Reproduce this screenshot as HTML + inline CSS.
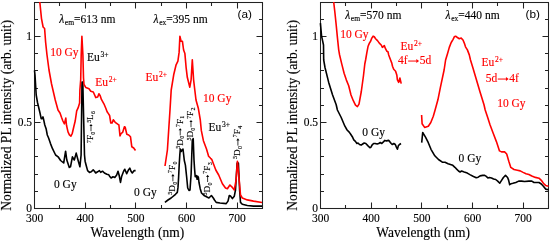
<!DOCTYPE html>
<html><head><meta charset="utf-8"><style>
html,body{margin:0;padding:0;background:#fff;width:550px;height:241px;overflow:hidden}
svg{display:block;will-change:transform}
text{font-family:"Liberation Serif",serif;stroke:currentColor;stroke-width:0.14px;paint-order:stroke}
.t{font-size:11.5px;fill:#000}
.ttl{font-size:13.5px;fill:#000}
.pl{font-family:"Liberation Sans",sans-serif;font-size:11.8px;fill:#000;stroke:none}
.an{font-size:11.5px}
.sm{font-size:9px;fill:#000}
</style></head><body>
<svg width="550" height="241" viewBox="0 0 550 241">
<rect x="34.50" y="2.5" width="228.00" height="206.00" fill="none" stroke="#222" stroke-width="1.05"/>
<path d="M59.50,208.50 v-3.5 M59.50,2.50 v3.5 M85.50,208.50 v-6 M85.50,2.50 v6 M110.50,208.50 v-3.5 M110.50,2.50 v3.5 M135.50,208.50 v-6 M135.50,2.50 v6 M161.50,208.50 v-3.5 M161.50,2.50 v3.5 M186.50,208.50 v-6 M186.50,2.50 v6 M211.50,208.50 v-3.5 M211.50,2.50 v3.5 M237.50,208.50 v-6 M237.50,2.50 v6 M262.50,208.50 v-3.5 M262.50,2.50 v3.5 M34.50,191.50 h3.5 M262.50,191.50 h-3.5 M34.50,174.50 h3.5 M262.50,174.50 h-3.5 M34.50,156.50 h3.5 M262.50,156.50 h-3.5 M34.50,139.50 h3.5 M262.50,139.50 h-3.5 M34.50,122.50 h6 M262.50,122.50 h-6 M34.50,105.50 h3.5 M262.50,105.50 h-3.5 M34.50,88.50 h3.5 M262.50,88.50 h-3.5 M34.50,70.50 h3.5 M262.50,70.50 h-3.5 M34.50,53.50 h3.5 M262.50,53.50 h-3.5 M34.50,36.50 h6 M262.50,36.50 h-6 M34.50,19.50 h3.5 M262.50,19.50 h-3.5" stroke="#222" stroke-width="1.05" fill="none"/>
<text transform="translate(34.50,221.5) scale(1,1.02)" text-anchor="middle" class="t">300</text>
<text transform="translate(85.17,221.5) scale(1,1.02)" text-anchor="middle" class="t">400</text>
<text transform="translate(135.83,221.5) scale(1,1.02)" text-anchor="middle" class="t">500</text>
<text transform="translate(186.50,221.5) scale(1,1.02)" text-anchor="middle" class="t">600</text>
<text transform="translate(237.17,221.5) scale(1,1.02)" text-anchor="middle" class="t">700</text>
<text transform="translate(32.00,212.30) scale(1,1.02)" text-anchor="end" class="t">0</text>
<text transform="translate(32.00,126.30) scale(1,1.02)" text-anchor="end" class="t">0.5</text>
<text transform="translate(32.00,40.30) scale(1,1.02)" text-anchor="end" class="t">1</text>
<rect x="320.50" y="2.5" width="228.00" height="206.00" fill="none" stroke="#222" stroke-width="1.05"/>
<path d="M345.50,208.50 v-3.5 M345.50,2.50 v3.5 M371.50,208.50 v-6 M371.50,2.50 v6 M396.50,208.50 v-3.5 M396.50,2.50 v3.5 M421.50,208.50 v-6 M421.50,2.50 v6 M447.50,208.50 v-3.5 M447.50,2.50 v3.5 M472.50,208.50 v-6 M472.50,2.50 v6 M497.50,208.50 v-3.5 M497.50,2.50 v3.5 M523.50,208.50 v-6 M523.50,2.50 v6 M548.50,208.50 v-3.5 M548.50,2.50 v3.5 M320.50,191.50 h3.5 M548.50,191.50 h-3.5 M320.50,174.50 h3.5 M548.50,174.50 h-3.5 M320.50,156.50 h3.5 M548.50,156.50 h-3.5 M320.50,139.50 h3.5 M548.50,139.50 h-3.5 M320.50,122.50 h6 M548.50,122.50 h-6 M320.50,105.50 h3.5 M548.50,105.50 h-3.5 M320.50,88.50 h3.5 M548.50,88.50 h-3.5 M320.50,70.50 h3.5 M548.50,70.50 h-3.5 M320.50,53.50 h3.5 M548.50,53.50 h-3.5 M320.50,36.50 h6 M548.50,36.50 h-6 M320.50,19.50 h3.5 M548.50,19.50 h-3.5" stroke="#222" stroke-width="1.05" fill="none"/>
<text transform="translate(320.50,221.5) scale(1,1.02)" text-anchor="middle" class="t">300</text>
<text transform="translate(371.17,221.5) scale(1,1.02)" text-anchor="middle" class="t">400</text>
<text transform="translate(421.83,221.5) scale(1,1.02)" text-anchor="middle" class="t">500</text>
<text transform="translate(472.50,221.5) scale(1,1.02)" text-anchor="middle" class="t">600</text>
<text transform="translate(523.17,221.5) scale(1,1.02)" text-anchor="middle" class="t">700</text>
<text transform="translate(318.00,212.30) scale(1,1.02)" text-anchor="end" class="t">0</text>
<text transform="translate(318.00,126.30) scale(1,1.02)" text-anchor="end" class="t">0.5</text>
<text transform="translate(318.00,40.30) scale(1,1.02)" text-anchor="end" class="t">1</text>
<path d="M34.50,70.50 L35.00,75.00 L36.20,95.00 L37.50,102.50 L38.70,107.50 L40.00,113.00 L41.20,118.70 L42.20,118.80 L43.00,116.90 L43.60,119.40 L44.80,125.00 L46.10,128.70 L47.30,135.00 L48.60,138.00 L50.50,143.60 L52.50,148.70 L55.60,155.00 L58.10,156.80 L60.60,160.50 L63.70,163.00 L65.60,151.20 L66.80,160.00 L69.30,167.40 L70.50,166.80 L72.40,156.80 L74.30,160.00 L76.20,153.10 L78.00,160.00 L79.90,166.80 L81.10,155.00 L82.00,82.00 L82.80,82.00 L84.50,155.00 L85.10,161.20 L86.40,166.20 L87.60,170.60 L89.50,172.40 L91.30,171.80 L93.20,169.90 L94.50,171.20 L95.70,173.00 L97.60,171.80 L99.40,170.60 L100.70,172.40 L102.50,171.20 L104.40,173.00 L106.90,174.30 L108.80,174.80 L110.00,176.80 L111.10,178.00 L113.00,176.80 L114.80,177.40 L116.70,174.90 L118.00,171.20 L119.20,175.50 L120.50,182.40 L121.70,176.20 L123.60,171.20 L124.80,169.30 L126.70,173.70 L128.50,169.90 L129.80,168.10 L131.00,171.20 L132.30,173.00 L134.20,170.60 L135.60,170.60" stroke="#000000" stroke-width="1.6" fill="none" stroke-linejoin="round"/>
<path d="M39.80,2.00 L41.50,18.60 L43.10,27.00 L44.60,28.50 L45.60,42.00 L47.00,55.00 L49.00,70.00 L51.50,83.75 L55.25,100.00 L58.00,110.00 L60.00,113.00 L61.50,117.30 L62.90,121.00 L64.40,123.90 L65.80,118.10 L66.50,125.30 L68.00,131.90 L69.40,134.80 L70.90,136.20 L72.30,133.30 L73.80,126.80 L75.20,121.00 L76.70,110.80 L78.10,107.90 L79.60,103.00 L79.90,90.00 L80.70,79.80 L81.20,55.00 L81.90,36.20 L82.90,55.00 L83.50,78.00 L84.00,84.50 L85.90,87.60 L89.00,88.80 L90.80,91.30 L93.30,92.00 L95.80,97.60 L97.70,97.00 L98.90,93.80 L100.20,95.70 L101.40,99.40 L103.90,103.80 L105.80,108.20 L107.10,111.70 L108.40,113.60 L109.60,115.50 L110.80,123.00 L112.10,123.00 L113.30,119.80 L115.20,122.30 L117.70,124.20 L118.90,125.00 L120.00,136.00 L121.20,133.30 L122.70,132.30 L124.40,126.80 L125.20,127.30 L126.80,134.30 L128.70,135.00 L130.50,136.80 L131.80,146.80 L133.70,148.00 L135.50,150.50" stroke="#ff0000" stroke-width="1.6" fill="none" stroke-linejoin="round"/>
<path d="M164.90,202.30 L168.00,200.00 L171.10,198.00 L175.50,194.30 L177.30,192.40 L178.00,187.40 L178.60,177.50 L179.20,165.00 L179.80,155.00 L180.30,149.00 L181.20,151.50 L182.00,150.00 L183.00,149.00 L184.30,160.50 L185.40,165.10 L186.60,176.50 L187.70,188.00 L189.00,190.50 L190.00,190.00 L191.10,174.20 L192.30,140.00 L193.20,138.60 L194.00,160.00 L194.50,168.00 L195.20,176.80 L196.50,175.60 L197.10,179.30 L197.70,176.20 L198.40,177.50 L199.00,182.50 L200.20,188.70 L201.50,193.00 L204.00,195.50 L206.50,196.80 L208.90,198.00 L211.40,195.50 L213.30,198.00 L214.50,200.00 L216.20,202.40 L220.00,203.00 L226.20,203.60 L228.00,201.10 L229.30,195.50 L230.50,196.00 L232.40,198.60 L234.30,196.20 L235.50,190.00 L237.10,163.00 L238.40,163.00 L239.60,190.00 L240.50,202.40 L242.30,204.30 L247.30,205.50 L253.50,206.10 L262.00,206.10" stroke="#000000" stroke-width="1.6" fill="none" stroke-linejoin="round"/>
<path d="M165.00,166.00 L167.40,150.00 L168.70,130.00 L170.00,110.00 L171.20,90.00 L173.70,74.80 L176.10,64.80 L177.90,61.10 L179.10,52.40 L179.90,36.20 L181.10,41.20 L182.40,41.20 L183.60,50.00 L184.90,53.60 L186.10,67.30 L187.30,77.30 L189.80,87.20 L191.10,79.80 L192.30,59.90 L193.60,79.80 L194.80,90.00 L196.00,100.00 L198.30,108.20 L200.30,120.00 L201.30,130.40 L203.40,140.70 L206.50,149.00 L208.60,156.20 L210.60,158.30 L211.70,159.30 L213.70,164.50 L215.80,170.00 L218.70,175.00 L222.40,183.70 L225.50,188.00 L227.40,188.70 L229.90,185.00 L231.80,186.80 L234.30,190.00 L236.10,180.00 L237.40,161.20 L239.20,180.00 L240.50,195.00 L242.30,198.00 L247.30,199.90 L253.50,201.10 L262.00,202.50" stroke="#ff0000" stroke-width="1.6" fill="none" stroke-linejoin="round"/>
<path d="M320.40,23.10 L321.60,36.20 L323.50,45.00 L323.70,60.00 L325.00,67.50 L328.70,82.40 L332.50,94.80 L336.20,104.80 L337.40,110.00 L341.20,117.50 L344.90,126.20 L347.10,130.00 L349.20,132.10 L350.70,134.20 L352.30,136.70 L353.80,139.90 L355.40,141.40 L356.90,143.50 L358.00,143.00 L359.50,144.50 L361.10,145.10 L362.70,144.00 L364.20,143.00 L365.80,143.50 L367.80,145.60 L369.90,147.70 L371.00,147.10 L372.00,145.10 L373.60,143.50 L375.10,143.50 L377.20,144.00 L378.70,143.50 L380.30,142.50 L381.80,143.50 L383.40,141.90 L384.90,140.40 L386.50,140.90 L388.60,140.40 L389.60,141.40 L391.20,143.50 L392.20,144.50 L393.80,143.50 L395.30,144.50 L396.40,147.10 L397.40,149.20 L398.40,145.60 L399.50,144.50 L401.00,143.50" stroke="#000000" stroke-width="1.6" fill="none" stroke-linejoin="round"/>
<path d="M333.70,2.00 L334.90,12.50 L336.20,25.00 L337.40,37.40 L338.70,49.80 L339.60,55.00 L341.80,64.10 L344.10,73.30 L346.40,80.10 L348.70,85.80 L351.00,95.00 L353.30,100.70 L355.50,105.20 L357.40,106.60 L359.00,104.10 L361.30,91.50 L363.50,75.50 L364.80,64.00 L365.60,60.00 L366.90,52.40 L368.10,46.20 L369.40,43.10 L370.60,41.20 L371.80,38.10 L373.10,36.20 L374.30,36.80 L375.60,38.70 L377.50,40.60 L379.30,43.10 L381.20,45.00 L382.40,47.40 L384.30,45.60 L385.50,48.70 L386.80,51.20 L388.00,51.80 L388.70,55.00 L390.60,60.00 L391.80,63.10 L392.50,66.20 L393.70,69.30 L395.60,71.20 L396.80,74.90 L397.40,79.90 L398.70,82.40 L399.90,78.00 L401.20,83.60" stroke="#ff0000" stroke-width="1.6" fill="none" stroke-linejoin="round"/>
<path d="M421.70,142.70 L422.70,132.50 L425.50,137.10 L428.30,142.70 L431.00,149.30 L434.80,155.80 L438.50,159.50 L442.30,162.20 L445.00,162.20 L448.10,163.70 L451.20,164.70 L452.80,165.30 L454.90,167.30 L456.90,169.40 L458.50,171.00 L460.10,172.00 L461.60,171.00 L464.20,172.00 L467.30,173.10 L469.90,174.60 L473.00,176.20 L476.20,177.70 L478.20,177.20 L480.10,175.90 L482.70,175.40 L484.70,175.40 L486.30,176.40 L487.90,178.00 L489.40,177.50 L491.50,178.00 L493.60,179.00 L495.70,179.50 L497.70,181.10 L499.80,183.20 L501.40,180.60 L503.40,177.50 L505.50,175.40 L507.60,177.50 L508.60,180.10 L509.70,184.70 L511.20,183.70 L512.90,183.30 L515.80,182.50 L518.70,181.10 L521.60,181.10 L524.50,181.50 L528.90,181.10 L531.80,181.10 L534.00,182.50 L536.20,182.50 L539.00,182.50 L541.30,184.00 L543.40,186.20 L545.60,189.10 L548.50,189.80" stroke="#000000" stroke-width="1.6" fill="none" stroke-linejoin="round"/>
<path d="M421.60,115.00 L422.10,123.70 L424.60,127.40 L428.30,126.20 L430.80,122.50 L433.30,116.20 L435.10,110.00 L437.90,99.80 L440.40,87.40 L444.10,70.00 L445.60,60.00 L447.50,53.70 L449.30,47.40 L451.20,42.50 L453.10,39.30 L454.30,36.80 L455.60,36.20 L457.40,37.50 L459.30,38.70 L461.20,38.10 L463.00,40.00 L464.30,43.10 L465.50,46.80 L467.40,49.90 L469.30,54.90 L470.50,60.00 L472.80,67.50 L476.50,79.90 L480.20,92.40 L484.00,104.80 L485.20,110.00 L487.70,117.50 L490.10,125.00 L493.20,133.30 L496.40,141.60 L499.50,150.90 L501.50,151.90 L504.60,151.90 L506.70,154.00 L508.80,161.20 L510.80,167.40 L514.00,169.50 L517.30,170.20 L520.20,170.90 L523.10,172.40 L526.00,173.80 L528.90,174.50 L531.80,176.00 L535.40,177.40 L539.00,178.20 L541.30,180.30 L543.40,183.30 L545.60,185.40 L548.50,186.20" stroke="#ff0000" stroke-width="1.6" fill="none" stroke-linejoin="round"/>
<text transform="translate(137.3,237) scale(1,1.02)" text-anchor="middle" class="ttl">Wavelength (nm)</text>
<text transform="translate(423.2,237) scale(1,1.02)" text-anchor="middle" class="ttl">Wavelength (nm)</text>
<text transform="translate(11.2,115.3) rotate(-90) scale(1.008,1.09)" text-anchor="middle" class="ttl">Normalized PL intensity (arb. unit)</text>
<text transform="translate(297.4,115.3) rotate(-90) scale(1.008,1.09)" text-anchor="middle" class="ttl">Normalized PL intensity (arb. unit)</text>
<text x="237.5" y="18.1" class="pl">(a)</text>
<text x="525.6" y="18.1" class="pl">(b)</text>
<g transform="translate(59.3,22.6) scale(1,1.02)" fill="#000" color="#000"><text x="0.00" y="0" font-size="11.5" font-style="italic">λ</text><text x="5.56" y="2.30" font-size="7.59">em</text><text x="14.83" y="0" font-size="11.5">=613 nm</text></g>
<g transform="translate(153.6,22.6) scale(1,1.02)" fill="#000" color="#000"><text x="0.00" y="0" font-size="11.5" font-style="italic">λ</text><text x="5.56" y="2.30" font-size="7.59">ex</text><text x="12.72" y="0" font-size="11.5">=395 nm</text></g>
<g transform="translate(345.3,18.8) scale(1,1.02)" fill="#000" color="#000"><text x="0.00" y="0" font-size="11.5" font-style="italic">λ</text><text x="5.56" y="2.30" font-size="7.59">em</text><text x="14.83" y="0" font-size="11.5">=570 nm</text></g>
<g transform="translate(445.6,18.8) scale(1,1.02)" fill="#000" color="#000"><text x="0.00" y="0" font-size="11.5" font-style="italic">λ</text><text x="5.56" y="2.30" font-size="7.59">ex</text><text x="12.72" y="0" font-size="11.5">=440 nm</text></g>
<g transform="translate(50.2,55.5) scale(1,1.02)" fill="#ff0000" color="#ff0000"><text x="0.00" y="0" font-size="11.5">10 Gy</text></g>
<g transform="translate(87,61) scale(1,1.02)" fill="#000000" color="#000000"><text x="0.00" y="0" font-size="11.5">Eu</text><text x="13.58" y="-3.45" font-size="7.59">3+</text></g>
<g transform="translate(95.2,86) scale(1,1.02)" fill="#ff0000" color="#ff0000"><text x="0.00" y="0" font-size="11.5">Eu</text><text x="13.58" y="-3.45" font-size="7.59">2+</text></g>
<g transform="translate(145.5,81) scale(1,1.02)" fill="#ff0000" color="#ff0000"><text x="0.00" y="0" font-size="11.5">Eu</text><text x="13.58" y="-3.45" font-size="7.59">2+</text></g>
<g transform="translate(203,101.8) scale(1,1.02)" fill="#ff0000" color="#ff0000"><text x="0.00" y="0" font-size="11.5">10 Gy</text></g>
<g transform="translate(208.5,131) scale(1,1.02)" fill="#000000" color="#000000"><text x="0.00" y="0" font-size="11.5">Eu</text><text x="13.58" y="-3.45" font-size="7.59">3+</text></g>
<g transform="translate(54,188) scale(1,1.02)" fill="#000000" color="#000000"><text x="0.00" y="0" font-size="11.5">0 Gy</text></g>
<g transform="translate(134.1,196.2) scale(1,1.02)" fill="#000000" color="#000000"><text x="0.00" y="0" font-size="11.5">0 Gy</text></g>
<g transform="translate(340.2,38.3) scale(1,1.02)" fill="#ff0000" color="#ff0000"><text x="0.00" y="0" font-size="11.5">10 Gy</text></g>
<g transform="translate(400.5,49.6) scale(1,1.02)" fill="#ff0000" color="#ff0000"><text x="0.00" y="0" font-size="11.5">Eu</text><text x="13.58" y="-3.45" font-size="7.59">2+</text></g>
<g transform="translate(398,64) scale(1,1.02)" fill="#ff0000" color="#ff0000"><text x="0.00" y="0" font-size="11.5">4f</text><path d="M10.15,-2.88 H18.62" stroke="#ff0000" stroke-width="0.98"/><path d="M18.32,-4.83 L21.08,-2.88 L18.32,-0.92 Z" fill="#ff0000"/><text x="21.65" y="0" font-size="11.5">5d</text></g>
<g transform="translate(481.5,66) scale(1,1.02)" fill="#ff0000" color="#ff0000"><text x="0.00" y="0" font-size="11.5">Eu</text><text x="13.58" y="-3.45" font-size="7.59">2+</text></g>
<g transform="translate(485.7,82) scale(1,1.02)" fill="#ff0000" color="#ff0000"><text x="0.00" y="0" font-size="11.5">5d</text><path d="M12.07,-2.88 H20.54" stroke="#ff0000" stroke-width="0.98"/><path d="M20.24,-4.83 L23.00,-2.88 L20.24,-0.92 Z" fill="#ff0000"/><text x="23.58" y="0" font-size="11.5">4f</text></g>
<g transform="translate(497.2,107) scale(1,1.02)" fill="#ff0000" color="#ff0000"><text x="0.00" y="0" font-size="11.5">10 Gy</text></g>
<g transform="translate(362.3,136.4) scale(1,1.02)" fill="#000000" color="#000000"><text x="0.00" y="0" font-size="11.5">0 Gy</text></g>
<g transform="translate(458.6,162.3) scale(1,1.02)" fill="#000000" color="#000000"><text x="0.00" y="0" font-size="11.5">0 Gy</text></g>
<g transform="translate(93.3,143.7) rotate(-90) scale(1,1.02)" fill="#000" color="#000"><text x="0.63" y="-2.70" font-size="5.94">7</text><text x="3.60" y="0" font-size="9">F</text><text x="9.06" y="1.80" font-size="5.94">0</text><path d="M12.48,-2.25 H17.92" stroke="#000" stroke-width="0.77"/><path d="M17.62,-3.78 L19.78,-2.25 L17.62,-0.72 Z" fill="#000"/><text x="20.86" y="-2.70" font-size="5.94">5</text><text x="23.83" y="0" font-size="9">L</text><text x="29.77" y="1.80" font-size="5.94">6</text></g>
<g transform="translate(175.2,195.3) rotate(-90) scale(1,1.02)" fill="#000" color="#000"><text x="0.63" y="-2.70" font-size="5.94">5</text><text x="3.60" y="0" font-size="9">D</text><text x="10.55" y="1.80" font-size="5.94">0</text><path d="M13.97,-2.25 H19.41" stroke="#000" stroke-width="0.77"/><path d="M19.11,-3.78 L21.27,-2.25 L19.11,-0.72 Z" fill="#000"/><text x="22.35" y="-2.70" font-size="5.94">7</text><text x="25.32" y="0" font-size="9">F</text><text x="30.77" y="1.80" font-size="5.94">0</text></g>
<g transform="translate(182.5,149.4) rotate(-90) scale(1,1.02)" fill="#000" color="#000"><text x="0.63" y="-2.70" font-size="5.94">5</text><text x="3.60" y="0" font-size="9">D</text><text x="10.55" y="1.80" font-size="5.94">0</text><path d="M13.97,-2.25 H19.41" stroke="#000" stroke-width="0.77"/><path d="M19.11,-3.78 L21.27,-2.25 L19.11,-0.72 Z" fill="#000"/><text x="22.35" y="-2.70" font-size="5.94">7</text><text x="25.32" y="0" font-size="9">F</text><text x="30.77" y="1.80" font-size="5.94">1</text></g>
<g transform="translate(193.3,141.2) rotate(-90) scale(1,1.02)" fill="#000" color="#000"><text x="0.63" y="-2.70" font-size="5.94">5</text><text x="3.60" y="0" font-size="9">D</text><text x="10.55" y="1.80" font-size="5.94">0</text><path d="M13.97,-2.25 H19.41" stroke="#000" stroke-width="0.77"/><path d="M19.11,-3.78 L21.27,-2.25 L19.11,-0.72 Z" fill="#000"/><text x="22.35" y="-2.70" font-size="5.94">7</text><text x="25.32" y="0" font-size="9">F</text><text x="30.77" y="1.80" font-size="5.94">2</text></g>
<g transform="translate(209.9,196) rotate(-90) scale(1,1.02)" fill="#000" color="#000"><text x="0.63" y="-2.70" font-size="5.94">5</text><text x="3.60" y="0" font-size="9">D</text><text x="10.55" y="1.80" font-size="5.94">0</text><path d="M13.97,-2.25 H19.41" stroke="#000" stroke-width="0.77"/><path d="M19.11,-3.78 L21.27,-2.25 L19.11,-0.72 Z" fill="#000"/><text x="22.35" y="-2.70" font-size="5.94">7</text><text x="25.32" y="0" font-size="9">F</text><text x="30.77" y="1.80" font-size="5.94">3</text></g>
<g transform="translate(240.2,159.6) rotate(-90) scale(1,1.02)" fill="#000" color="#000"><text x="0.63" y="-2.70" font-size="5.94">5</text><text x="3.60" y="0" font-size="9">D</text><text x="10.55" y="1.80" font-size="5.94">0</text><path d="M13.97,-2.25 H19.41" stroke="#000" stroke-width="0.77"/><path d="M19.11,-3.78 L21.27,-2.25 L19.11,-0.72 Z" fill="#000"/><text x="22.35" y="-2.70" font-size="5.94">7</text><text x="25.32" y="0" font-size="9">F</text><text x="30.77" y="1.80" font-size="5.94">4</text></g>
</svg></body></html>
